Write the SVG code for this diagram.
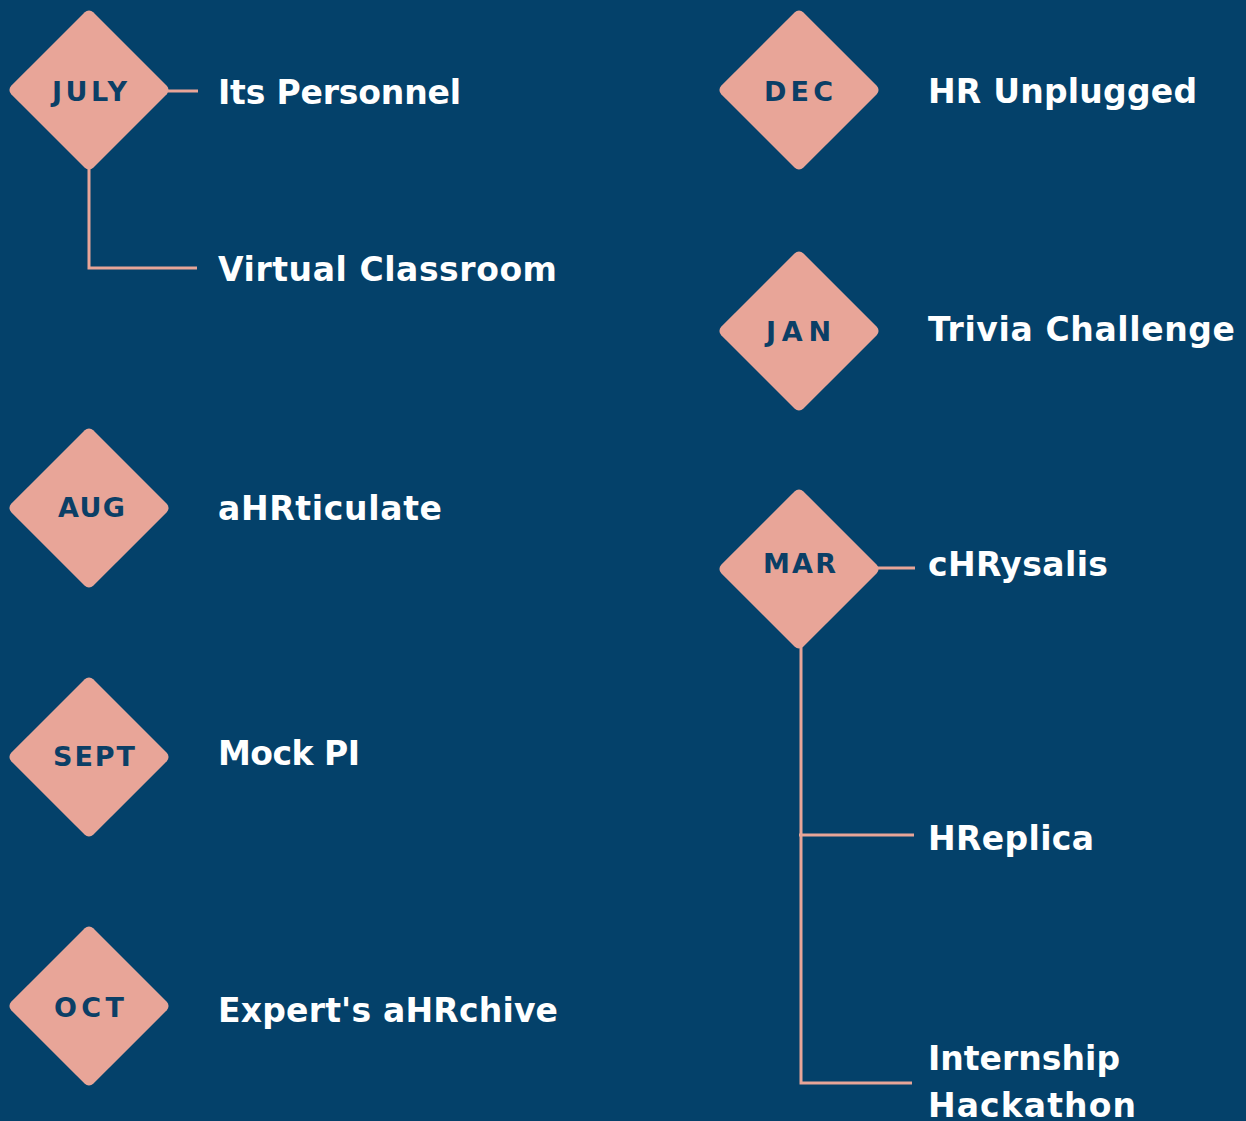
<svg xmlns="http://www.w3.org/2000/svg" width="1246" height="1121" viewBox="0 0 1246 1121">
  <defs>
    <style>
      .bg { fill: #04416A; }
      .diamond { fill: #E8A598; }
      .month { font-family: "DejaVu Sans", "Liberation Sans", sans-serif; font-weight: 700; font-size: 27px; fill: #0B3F66; text-anchor: middle; }
      .label { font-family: "DejaVu Sans", "Liberation Sans", sans-serif; font-weight: 700; font-size: 33px; fill: #FFFFFF; }
      .link { fill: none; stroke: #E8A598; stroke-width: 3; }
    </style>
    <!-- rounded square, rotated into a diamond around the origin -->
    <rect id="dia" x="-58" y="-58" width="116" height="116" rx="6" ry="6" transform="rotate(45)"/>
  </defs>

  <rect class="bg" x="0" y="0" width="1246" height="1121"/>

  <g id="connectors">
    <!-- JULY branches -->
    <path class="link" d="M168 91 H198"/>
    <path class="link" d="M89 168 V268 H197"/>
    <!-- MAR branches -->
    <path class="link" d="M877 568 H915"/>
    <path class="link" d="M801 646 V1083 H912"/>
    <path class="link" d="M799 835 H914"/>
  </g>

  <g id="node-july">
    <use href="#dia" class="diamond" transform="translate(89 90)"/>
    <text class="month" x="89.5" y="101" textLength="75">JULY</text>
  </g>
  <g id="node-aug">
    <use href="#dia" class="diamond" transform="translate(89 508)"/>
    <text class="month" x="91.5" y="517" textLength="67">AUG</text>
  </g>
  <g id="node-sept">
    <use href="#dia" class="diamond" transform="translate(89 757)"/>
    <text class="month" x="94" y="766" textLength="82">SEPT</text>
  </g>
  <g id="node-oct">
    <use href="#dia" class="diamond" transform="translate(89 1006)"/>
    <text class="month" x="89" y="1017" textLength="70">OCT</text>
  </g>
  <g id="node-dec">
    <use href="#dia" class="diamond" transform="translate(799 90)"/>
    <text class="month" x="798.5" y="101" textLength="69">DEC</text>
  </g>
  <g id="node-jan">
    <use href="#dia" class="diamond" transform="translate(799 331)"/>
    <text class="month" x="798.5" y="341" textLength="65">JAN</text>
  </g>
  <g id="node-mar">
    <use href="#dia" class="diamond" transform="translate(799 569)"/>
    <text class="month" x="799.5" y="573" textLength="73">MAR</text>
  </g>

  <g id="labels">
    <text class="label" x="218" y="104" textLength="243">Its Personnel</text>
    <text class="label" x="218" y="281" textLength="339">Virtual Classroom</text>
    <text class="label" x="218" y="520" textLength="224">aHRticulate</text>
    <text class="label" x="218" y="765" textLength="142">Mock PI</text>
    <text class="label" x="218" y="1022" textLength="340">Expert's aHRchive</text>
    <text class="label" x="928" y="103" textLength="269">HR Unplugged</text>
    <text class="label" x="928" y="341" textLength="307">Trivia Challenge</text>
    <text class="label" x="928" y="576" textLength="180">cHRysalis</text>
    <text class="label" x="928" y="850" textLength="166">HReplica</text>
    <text class="label" x="928" y="1070" textLength="192">Internship</text>
    <text class="label" x="928" y="1117" textLength="208">Hackathon</text>
  </g>
</svg>
